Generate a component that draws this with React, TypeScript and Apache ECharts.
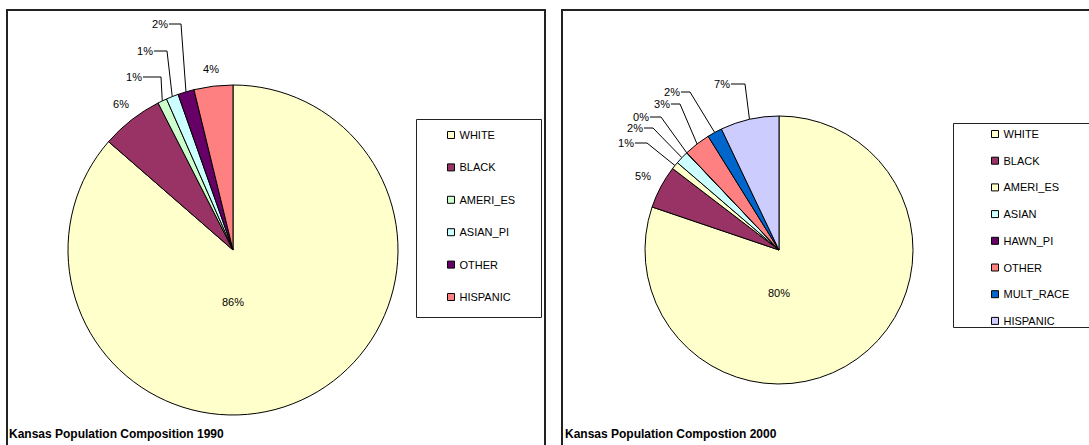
import React, { useEffect, useRef } from "react";
import * as echarts from "echarts";

// ---------- data ----------
const CATEGORIES_1990 = ["WHITE", "BLACK", "AMERI_ES", "ASIAN_PI", "OTHER", "HISPANIC"];
const VALUES_1990 = [86.4, 6.1, 0.9, 1.2, 1.6, 3.8];
const COLORS_1990 = ["#FFFFCC", "#993366", "#CCFFCC", "#CCFFFF", "#660066", "#FF8080"];
const TITLE_1990 = "Kansas Population Composition 1990";

const CATEGORIES_2000 = ["WHITE", "BLACK", "AMERI_ES", "ASIAN", "HAWN_PI", "OTHER", "MULT_RACE", "HISPANIC"];
const VALUES_2000 = [80.2, 5.2, 0.9, 1.6, 0.03, 3.2, 1.8, 7.07];
const COLORS_2000 = ["#FFFFCC", "#993366", "#FFFFCC", "#CCFFFF", "#660066", "#FF8080", "#0066CC", "#CCCCFF"];
const TITLE_2000 = "Kansas Population Compostion 2000";

// ---------- layout (page coordinates) ----------
const FONT = "'Liberation Sans', Arial, sans-serif";

type Layout = {
  offsetX: number;
  width: number;
  center: [number, number];
  radius: number;
  frame: [number, number, number, number];
  legendBox: [number, number, number, number];
  legendLeft: number;
  legendTop: number;
  legendGap: number;
  // label center x, y, elbow x of the leader line (null = no leader)
  labels: Array<[number, number, number | null]>;
  titleX: number;
  titleY: number;
};

const LAYOUT_1990: Layout = {
  offsetX: 0,
  width: 554,
  center: [233, 250],
  radius: 165,
  frame: [7, 10, 538, 500],
  legendBox: [416.5, 119.5, 125, 198],
  legendLeft: 447,
  legendTop: 128,
  legendGap: 18.4,
  labels: [
    [233, 302, null],
    [121, 104, null],
    [134, 77, 161],
    [145, 51, 167],
    [160, 24, 181],
    [211, 69, null],
  ],
  titleX: 9,
  titleY: 434,
};

const LAYOUT_2000: Layout = {
  offsetX: 554,
  width: 535,
  center: [779, 250],
  radius: 134,
  frame: [562, 10, 600, 500],
  legendBox: [953.5, 123.5, 200, 204],
  legendLeft: 991,
  legendTop: 127,
  legendGap: 12.7,
  labels: [
    [779, 293, null],
    [643, 176, null],
    [626, 143, 647],
    [635, 128, 653],
    [641, 117, 661],
    [662, 104, 680],
    [672, 92, 690],
    [722, 84, 745],
  ],
  titleX: 565,
  titleY: 434,
};

function buildOption(names: string[], values: number[], colors: string[], title: string, L: Layout) {
  const ox = L.offsetX;
  return {
    animation: false,
    backgroundColor: "#ffffff",
    legend: {
      orient: "vertical",
      left: L.legendLeft - ox,
      top: L.legendTop,
      padding: 0,
      itemGap: L.legendGap,
      itemWidth: 7,
      itemHeight: 7,
      icon: "rect",
      selectedMode: false,
      itemStyle: { borderColor: "#000", borderWidth: 1 },
      textStyle: { fontFamily: FONT, fontSize: 11, color: "#000", lineHeight: 14 },
      data: names,
    },
    graphic: [
      {
        type: "rect",
        shape: { x: L.frame[0] - ox, y: L.frame[1], width: L.frame[2], height: L.frame[3] },
        style: { fill: "none", stroke: "#222", lineWidth: 2 },
        silent: true,
      },
      {
        type: "rect",
        shape: { x: L.legendBox[0] - ox, y: L.legendBox[1], width: L.legendBox[2], height: L.legendBox[3] },
        style: { fill: "none", stroke: "#222", lineWidth: 1 },
        silent: true,
      },
      {
        type: "text",
        x: L.titleX - ox,
        y: L.titleY,
        style: {
          text: title,
          fill: "#000",
          font: `bold 12px ${FONT}`,
          verticalAlign: "middle",
        },
        silent: true,
      },
    ],
    series: [
      {
        type: "pie",
        center: [L.center[0] - ox, L.center[1]],
        radius: L.radius,
        startAngle: 90,
        clockwise: true,
        avoidLabelOverlap: false,
        silent: true,
        emphasis: { disabled: true },
        itemStyle: { borderColor: "#000", borderWidth: 1 },
        label: {
          show: true,
          position: "outside",
          color: "#000",
          textBorderWidth: 0,
          textShadowBlur: 0,
          fontFamily: FONT,
          fontSize: 11,
          formatter: (p: any) => Math.round(p.percent) + "%",
        },
        labelLine: { show: true, length: 10, length2: 10, lineStyle: { color: "#000", width: 1 } },
        labelLayout: (p: any) => {
          const lab = L.labels[p.dataIndex];
          const x = lab[0] - ox;
          const y = lab[1];
          const out: any = { x, y, align: "center", verticalAlign: "middle" };
          if (lab[2] != null && p.labelLinePoints && p.labelLinePoints[0]) {
            const half = p.labelRect ? p.labelRect.width / 2 : 8;
            out.labelLinePoints = [p.labelLinePoints[0], [lab[2] - ox, y], [x + half + 1, y]];
          }
          return out;
        },
        data: names.map((n, i) => ({
          name: n,
          value: values[i],
          itemStyle: { color: colors[i] },
          labelLine: { show: L.labels[i][2] != null },
        })),
      },
    ],
  };
}

function PieChart(props: { names: string[]; values: number[]; colors: string[]; title: string; layout: Layout }) {
  const ref = useRef<HTMLDivElement>(null);
  useEffect(() => {
    if (!ref.current) return;
    const chart = echarts.init(ref.current, undefined, { renderer: "svg" });
    chart.setOption(buildOption(props.names, props.values, props.colors, props.title, props.layout) as any);
    return () => chart.dispose();
  }, []);
  return (
    <div
      ref={ref}
      style={{
        position: "absolute",
        left: props.layout.offsetX,
        top: 0,
        width: props.layout.width,
        height: 445,
      }}
    />
  );
}

export default function App() {
  return (
    <div style={{ position: "fixed", left: 0, top: 0, width: 1089, height: 445, background: "#fff", overflow: "hidden" }}>
      <PieChart names={CATEGORIES_1990} values={VALUES_1990} colors={COLORS_1990} title={TITLE_1990} layout={LAYOUT_1990} />
      <PieChart names={CATEGORIES_2000} values={VALUES_2000} colors={COLORS_2000} title={TITLE_2000} layout={LAYOUT_2000} />
    </div>
  );
}
